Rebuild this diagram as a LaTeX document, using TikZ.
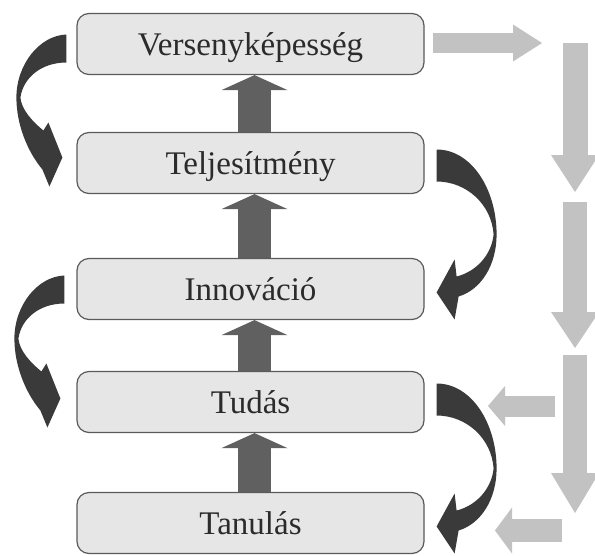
\documentclass[tikz,border=0pt]{standalone}
\usepackage{fontspec}
\setmainfont{Liberation Serif}
\usetikzlibrary{arrows.meta,calc}
\definecolor{boxfill}{HTML}{E6E6E6}
\definecolor{boxline}{HTML}{5A5A5A}
\definecolor{textdark}{HTML}{2B2B2B}
\definecolor{upfill}{HTML}{606060}
\definecolor{curvefill}{HTML}{3A3A3A}
\definecolor{flowgray}{HTML}{C2C2C2}
\begin{document}
\begin{tikzpicture}[x=1pt,y=-1pt,
  level/.style={draw=boxline, line width=1.2pt, fill=boxfill, rounded corners=12pt,
    minimum width=347pt, minimum height=61pt, inner sep=0pt, text=textdark,
    font=\fontsize{33}{38}\selectfont, text height=22pt, text depth=0pt},
  uparrow/.style={draw=upfill, line width=33pt,
    -{Triangle[width=66pt,length=15pt,line width=0pt]}},
  flowarrow/.style n args={3}{draw=flowgray, line width=#1,
    -{Triangle[width=#2,length=#3,line width=0pt]}},
  curveleft/.pic={
    \fill[curvefill] (-10,-9.5) .. controls (-37,-8.5) and (-60,20.5) .. (-60,53.5)
      .. controls (-60,80.5) and (-49,107.5) .. (-34,125.5) -- (-27,142.5)
      -- (-14,113.5) -- (-28,78.5) -- (-33,86.5)
      .. controls (-44,77.5) and (-55,65.5) .. (-56,53.5)
      .. controls (-53,33.5) and (-35,18.5) .. (-10,18.5) -- cycle;
  },
  curveright/.pic={
    \fill[curvefill] (12,-13.5) .. controls (47,-13.5) and (72,26.5) .. (72,71.5)
      .. controls (72,101.5) and (57,126.5) .. (34,133.5) -- (30,156.5)
      -- (12,129.5) -- (30,96.5) -- (32,113.5)
      .. controls (52,108.5) and (67,91.5) .. (69,71.5)
      .. controls (67,41.5) and (42,18.5) .. (12,18.5) -- cycle;
  }
]
\useasboundingbox (0,0) rectangle (595,555);

% the five levels
\node[level] (ver) at (250.5,44)  {Versenyképesség};
\node[level] (tel) at (250.5,163) {Teljesítmény};
\node[level] (inn) at (250.5,289) {Innováció};
\node[level] (tud) at (250.5,402) {Tudás};
\node[level] (tan) at (250.5,523) {Tanulás};

% upward links between the levels
\draw[uparrow] ([xshift=4pt]tel.north) -- ([xshift=4pt]ver.south);
\draw[uparrow] ([xshift=4pt]inn.north) -- ([xshift=4pt]tel.south);
\draw[uparrow] ([xshift=4pt]tud.north) -- ([xshift=4pt]inn.south);
\draw[uparrow] ([xshift=4pt]tan.north) -- ([xshift=4pt]tud.south);

% curved feedback arrows
\pic at (ver.west) {curveleft};
\pic at ($(inn.west)+(-2,-4)$) {curveleft};
\pic at (tel.east) {curveright};
\pic at ($(tud.east)+(0,-5)$) {curveright};

% light outer flow
\coordinate (r0) at (433,43);
\coordinate (r1) at (542,43);
\coordinate (d0) at (575,43);
\coordinate (d1) at (575,192);
\coordinate (d2) at (575,202);
\coordinate (d3) at (575,348);
\coordinate (d4) at (575,355);
\coordinate (d5) at (575,513);
\coordinate (l0) at (555,406);
\coordinate (l1) at (488,406);
\coordinate (m0) at (562,530.5);
\coordinate (m1) at (495,530.5);
\draw[flowarrow={20pt}{37pt}{29pt}] (r0) -- (r1);
\draw[flowarrow={25pt}{48pt}{37pt}] (d0) -- (d1);
\draw[flowarrow={24pt}{48pt}{36pt}] (d2) -- (d3);
\draw[flowarrow={24pt}{48pt}{40pt}] (d4) -- (d5);
\draw[flowarrow={21pt}{40pt}{17pt}] (l0) -- (l1);
\draw[flowarrow={23pt}{46pt}{17pt}] (m0) -- (m1);
\end{tikzpicture}
\end{document}
